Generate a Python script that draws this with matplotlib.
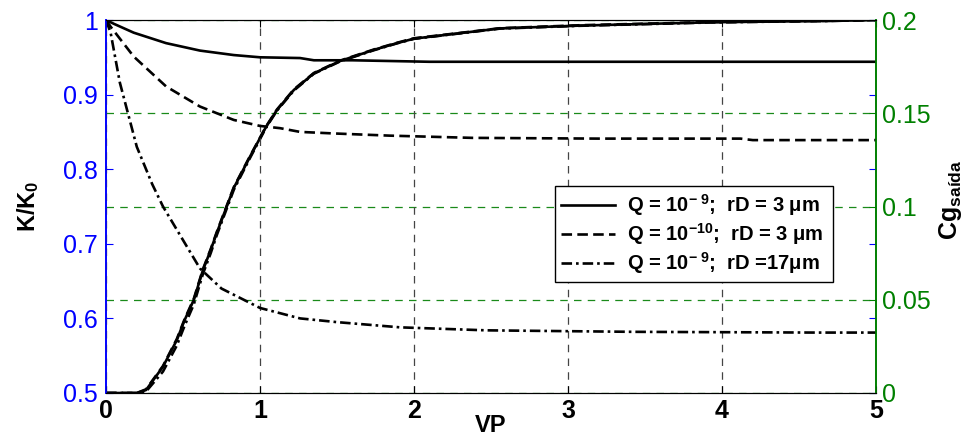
import matplotlib
matplotlib.use("Agg")
import matplotlib.pyplot as plt
import numpy as np

plt.rcParams['font.family'] = ['Liberation Sans', 'DejaVu Sans']
plt.rcParams['mathtext.fontset'] = 'custom'
plt.rcParams['mathtext.rm'] = 'Liberation Sans:bold'
plt.rcParams['mathtext.it'] = 'Liberation Sans:bold'
plt.rcParams['mathtext.bf'] = 'Liberation Sans:bold'

# K/K0 curves (left axis)
vp_solid = [0, 0.05, 0.18, 0.39, 0.61, 0.83, 1.0, 1.26, 1.35, 1.6, 2.1, 3.0, 4.0, 5.0]
k_solid = [1.0, 0.995, 0.983, 0.969, 0.959, 0.953, 0.950, 0.949, 0.946, 0.946, 0.944, 0.944, 0.944, 0.944]

vp_dash = [0, 0.03, 0.18, 0.39, 0.61, 0.83, 1.0, 1.13, 1.26, 1.47, 1.84, 2.38, 3.2, 4.12, 4.2, 5.0]
k_dash = [1.0, 0.991, 0.951, 0.911, 0.884, 0.866, 0.858, 0.855, 0.850, 0.848, 0.845, 0.842, 0.841, 0.841, 0.839, 0.839]

vp_dd = [0, 0.03, 0.09, 0.2, 0.3, 0.37, 0.5, 0.61, 0.75, 1.0, 1.26, 1.5, 1.91, 2.47, 3.42, 4.62, 5.0]
k_dd = [1.0, 0.983, 0.916, 0.830, 0.780, 0.750, 0.705, 0.667, 0.640, 0.614, 0.600, 0.595, 0.588, 0.584, 0.582, 0.581, 0.581]

# Cg saida curves (right axis)
vp_cg = [0, 0.2, 0.26, 0.37, 0.46, 0.51, 0.57, 0.63, 0.68, 0.72, 0.83, 0.935, 1.04, 1.11,
         1.22, 1.35, 1.52, 1.74, 1.89, 2.0, 2.56, 3.08, 3.94, 4.7, 5.0]
cg_solid = [0, 0, 0.0016, 0.0141, 0.0284, 0.0390, 0.0499, 0.0660, 0.0767, 0.0860, 0.1100, 0.1267, 0.1428, 0.1517,
            0.1625, 0.1714, 0.1780, 0.1840, 0.1876, 0.1900, 0.1955, 0.1970, 0.1988, 0.1995, 0.2]
cg_dash = [0, 0, 0.0020, 0.0145, 0.0290, 0.0395, 0.0505, 0.0665, 0.0772, 0.0865, 0.1104, 0.1270, 0.1430, 0.1520,
           0.1628, 0.1716, 0.1782, 0.1842, 0.1878, 0.1902, 0.1956, 0.1972, 0.1989, 0.1996, 0.2]
cg_dd = [0, 0, 0.0008, 0.0115, 0.0255, 0.0360, 0.0475, 0.0640, 0.0750, 0.0848, 0.1090, 0.1260, 0.1424, 0.1514,
         0.1622, 0.1712, 0.1778, 0.1838, 0.1875, 0.1899, 0.1954, 0.1969, 0.1987, 0.1995, 0.2]

labels = [r'Q = 10$^{-\ 9}$;  rD = 3 $\mu$m',
          r'Q = 10$^{-10}$;  rD = 3 $\mu$m',
          r'Q = 10$^{-\ 9}$;  rD =17$\mu$m']

fig = plt.figure(figsize=(9.69, 4.41), dpi=100)
ax = fig.add_axes([106/969, 48/441, 770/969, 373/441])
ax2 = ax.twinx()

lw = 1.9
l1, = ax.plot(vp_solid, k_solid, color='black', lw=lw, ls='-')
l2, = ax.plot(vp_dash, k_dash, color='black', lw=lw, ls=(0, (4, 2)))
l3, = ax.plot(vp_dd, k_dd, color='black', lw=lw, ls=(0, (4, 1.5, 1, 1.5)))

ax2.plot(vp_cg, cg_solid, color='black', lw=lw, ls='-')
ax2.plot(vp_cg, cg_dash, color='black', lw=lw, ls=(0, (4, 2)))
ax2.plot(vp_cg, cg_dd, color='black', lw=lw, ls=(0, (4, 1.5, 1, 1.5)))

ax.set_xlim(0, 5)
ax.set_ylim(0.5, 1)
ax2.set_ylim(0, 0.2)
ax.set_xticks([0, 1, 2, 3, 4, 5])
ax.set_yticks([0.5, 0.6, 0.7, 0.8, 0.9, 1])
ax.set_yticklabels(['0.5', '0.6', '0.7', '0.8', '0.9', '1'])
ax2.set_yticks([0, 0.05, 0.1, 0.15, 0.2])
ax2.set_yticklabels(['0', '0.05', '0.1', '0.15', '0.2'])

ax.xaxis.grid(True, color='#444444', ls=(0, (6, 5)), lw=0.9)
ax2.yaxis.grid(True, color='#1a8a1a', ls=(0, (6, 5)), lw=0.9)

ax.tick_params(axis='x', direction='in', length=5, top=True, labelsize=18, colors='black', pad=4)
ax.tick_params(axis='y', direction='in', length=5, right=True, labelsize=18, colors='blue', pad=6)
ax2.tick_params(axis='y', direction='in', length=5, labelsize=18, colors='green', pad=4)
for t in ax.get_xticklabels():
    t.set_fontweight('bold')

ax.spines['left'].set_color('blue')
ax2.spines['left'].set_color('blue')
ax2.spines['right'].set_color('green')
ax.spines['right'].set_color('green')
for a in (ax, ax2):
    a.spines['bottom'].set_color('black')
    a.spines['top'].set_color('black')
    a.spines['left'].set_linewidth(1.2)
    a.spines['right'].set_linewidth(1.2)

ax.set_xlabel('VP', fontsize=17, fontweight='bold', labelpad=-6)
fig.text(28/969, 1 - 206/441, r'K/K$_0$', fontsize=17, fontweight='bold',
         rotation=90, ha='center', va='center')
fig.text(950/969, 1 - 200/441, r'Cg$_{\mathrm{saída}}$', fontsize=18, fontweight='bold',
         rotation=90, ha='center', va='center')

leg = ax.legend([l1, l2, l3], labels, loc='lower left', bbox_to_anchor=(0.583, 0.298, 0.361, 0.254),
                mode='expand', borderaxespad=0, frameon=True, fancybox=False, edgecolor='black',
                framealpha=1, borderpad=0.3, labelspacing=0.15, handlelength=2.7, handletextpad=0.6,
                prop={'weight': 'bold', 'size': 14.5})
leg.get_frame().set_linewidth(1.0)
leg.set_zorder(10)
ax.set_zorder(ax2.get_zorder() + 1)
ax.patch.set_visible(False)

fig.savefig('out.png', dpi=100)
